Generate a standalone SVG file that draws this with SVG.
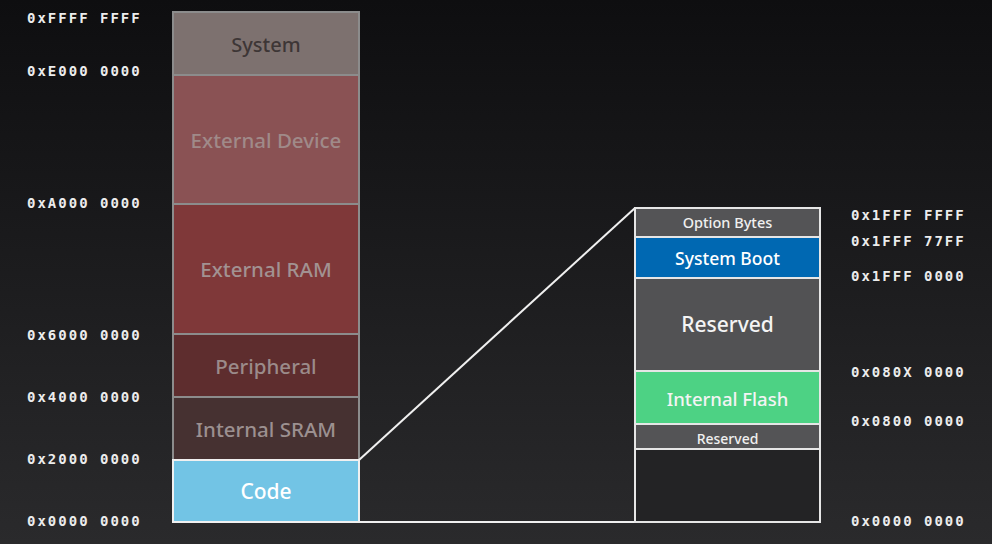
<svg xmlns="http://www.w3.org/2000/svg" width="992" height="544" viewBox="0 0 992 544">
<defs>
<linearGradient id="bg" x1="0" y1="0" x2="0" y2="1">
<stop offset="0" stop-color="#0e0e10"/>
<stop offset="1" stop-color="#2a2a2c"/>
</linearGradient>
</defs>
<style>
.addr{font-family:"DejaVu Sans Mono",monospace;font-weight:bold;font-size:14px;fill:#ececec;letter-spacing:2px}
.lbl{font-family:"Noto Sans",Lato,sans-serif;font-weight:500;text-anchor:middle;dominant-baseline:central}
.lb{stroke:#8c8c8c;stroke-width:2}
.rb{stroke:#e6e6e6;stroke-width:2}
.conn{stroke:#f0f0f0;stroke-width:2;fill:none}
</style>
<rect width="992" height="544" fill="url(#bg)"/>
<g id="left-addresses">
<text class="addr" x="27" y="23">0xFFFF FFFF</text>
<text class="addr" x="27" y="76">0xE000 0000</text>
<text class="addr" x="27" y="208">0xA000 0000</text>
<text class="addr" x="27" y="340">0x6000 0000</text>
<text class="addr" x="27" y="402">0x4000 0000</text>
<text class="addr" x="27" y="464">0x2000 0000</text>
<text class="addr" x="27" y="526">0x0000 0000</text>
</g>
<g id="system"><rect class="lb" x="173" y="12" width="186" height="63" fill="#7d716f"/><text class="lbl" x="266" y="44" font-size="20" fill="#3d3636">System</text></g>
<g id="external-device"><rect class="lb" x="173" y="75" width="186" height="129" fill="#8a5254"/><text class="lbl" x="266" y="140" font-size="20.5" fill="#a08a89">External Device</text></g>
<g id="external-ram"><rect class="lb" x="173" y="204" width="186" height="130" fill="#7f3839"/><text class="lbl" x="266" y="269" font-size="20.5" fill="#a29292">External RAM</text></g>
<g id="peripheral"><rect class="lb" x="173" y="334" width="186" height="63" fill="#5e2d2e"/><text class="lbl" x="266" y="366" font-size="20.5" fill="#9b8b8a">Peripheral</text></g>
<g id="internal-sram"><rect class="lb" x="173" y="397" width="186" height="63" fill="#463131"/><text class="lbl" x="266" y="429" font-size="20.5" fill="#9c9090">Internal SRAM</text></g>
<g id="code"><rect x="173" y="460" width="186" height="62" fill="#72c4e5" stroke="#f0f0f0" stroke-width="2"/><text class="lbl" x="266" y="491" font-size="21" fill="#ffffff">Code</text></g>
<g id="connectors">
<line class="conn" x1="359" y1="460" x2="635" y2="208"/>
<line class="conn" x1="359" y1="522" x2="635" y2="522"/>
</g>
<g id="option-bytes"><rect class="rb" x="635" y="208" width="185" height="29" fill="#545456"/><text class="lbl" x="727.5" y="222" font-size="14.5" fill="#f0f0f0">Option Bytes</text></g>
<g id="system-boot"><rect class="rb" x="635" y="237" width="185" height="41" fill="#0068b2"/><text class="lbl" x="727.5" y="258" font-size="17.5" fill="#ffffff">System Boot</text></g>
<g id="reserved-top"><rect class="rb" x="635" y="278" width="185" height="93" fill="#525254"/><text class="lbl" x="727.5" y="324" font-size="21" fill="#f4f4f4">Reserved</text></g>
<g id="internal-flash"><rect class="rb" x="635" y="371" width="185" height="53" fill="#4dd284"/><text class="lbl" x="727.5" y="398" font-size="18.5" fill="#f4f4f4">Internal Flash</text></g>
<g id="reserved-bottom"><rect class="rb" x="635" y="424" width="185" height="25" fill="#545456"/><text class="lbl" x="727.5" y="438" font-size="14" fill="#f0f0f0">Reserved</text></g>
<g id="empty"><rect class="rb" x="635" y="449" width="185" height="73" fill="#232325"/></g>
<g id="right-addresses">
<text class="addr" x="851" y="220">0x1FFF FFFF</text>
<text class="addr" x="851" y="246">0x1FFF 77FF</text>
<text class="addr" x="851" y="281">0x1FFF 0000</text>
<text class="addr" x="851" y="377">0x080X 0000</text>
<text class="addr" x="851" y="426">0x0800 0000</text>
<text class="addr" x="851" y="526">0x0000 0000</text>
</g>
</svg>
